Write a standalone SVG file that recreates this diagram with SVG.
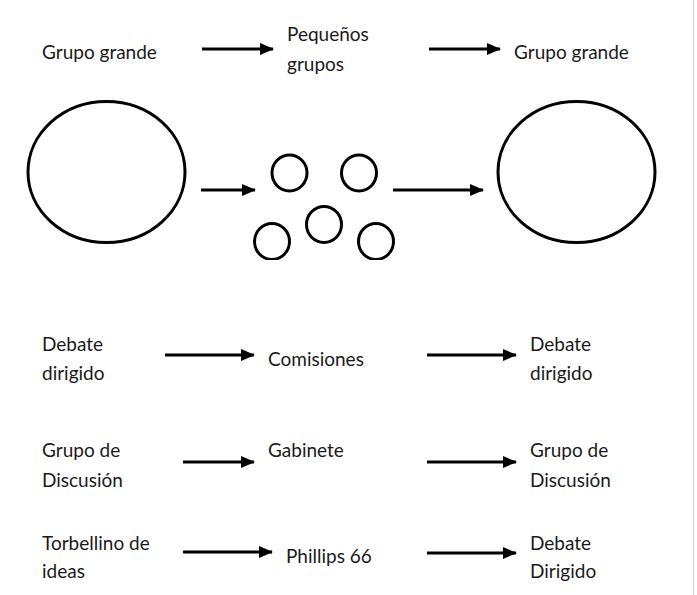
<svg xmlns="http://www.w3.org/2000/svg" width="697" height="595" viewBox="0 0 697 595">
<style>
text{font-family:Lato,"Liberation Sans",sans-serif;font-size:19px;fill:#1a1a1a}
.c{fill:none;stroke:#000;stroke-width:3}
.a{stroke:#000;stroke-width:3;fill:none;marker-end:url(#ah)}
</style>
<defs>
<marker id="ah" markerUnits="userSpaceOnUse" markerWidth="14" markerHeight="12" refX="13" refY="6" orient="auto" viewBox="0 0 14 12">
<path d="M0,0 L14,6 L0,12 z" fill="#000"/>
</marker>
<clipPath id="clipSmall"><rect x="0" y="0" width="697" height="260"/></clipPath>
</defs>
<rect width="697" height="595" fill="#fff"/>
<line x1="693.5" y1="0" x2="693.5" y2="595" stroke="#d4d4d4" stroke-width="1"/>
<g id="top-left"><text x="42" y="59">Grupo grande</text></g>
<g id="top-mid"><text x="287" y="41">Pequeños</text><text x="287" y="71">grupos</text></g>
<g id="top-right"><text x="514" y="59">Grupo grande</text></g>
<g id="big-left"><ellipse class="c" cx="106.5" cy="172" rx="78.5" ry="70.5"/></g>
<g id="small-groups" clip-path="url(#clipSmall)">
<ellipse class="c" cx="289.5" cy="173" rx="17.5" ry="18"/>
<ellipse class="c" cx="359" cy="173" rx="17.5" ry="18"/>
<ellipse class="c" cx="324" cy="224.5" rx="17.5" ry="18"/>
<ellipse class="c" cx="272" cy="241.5" rx="17.5" ry="18"/>
<ellipse class="c" cx="376" cy="241.5" rx="17.5" ry="18"/>
</g>
<g id="big-right"><ellipse class="c" cx="576.5" cy="172" rx="78.5" ry="70.5"/></g>
<g id="r1-left"><text x="42" y="351">Debate</text><text x="42" y="380">dirigido</text></g>
<g id="r1-mid"><text x="268" y="366">Comisiones</text></g>
<g id="r1-right"><text x="530" y="351">Debate</text><text x="530" y="380">dirigido</text></g>
<g id="r2-left"><text x="42" y="457">Grupo de</text><text x="42" y="487">Discusión</text></g>
<g id="r2-mid"><text x="268" y="457">Gabinete</text></g>
<g id="r2-right"><text x="530" y="457">Grupo de</text><text x="530" y="487">Discusión</text></g>
<g id="r3-left"><text x="42" y="550">Torbellino de</text><text x="42" y="578">ideas</text></g>
<g id="r3-mid"><text x="286" y="563">Phillips 66</text></g>
<g id="r3-right"><text x="530" y="550">Debate</text><text x="530" y="578">Dirigido</text></g>
<g id="connectors">
<line class="a" x1="202" y1="49" x2="273" y2="49"/>
<line class="a" x1="429" y1="49" x2="500" y2="49"/>
<line class="a" x1="201" y1="190" x2="255" y2="190"/>
<line class="a" x1="393" y1="190" x2="483" y2="190"/>
<line class="a" x1="165" y1="355" x2="254" y2="355"/>
<line class="a" x1="427" y1="355" x2="516" y2="355"/>
<line class="a" x1="183" y1="462" x2="254" y2="462"/>
<line class="a" x1="427" y1="462" x2="516" y2="462"/>
<line class="a" x1="183" y1="552" x2="272" y2="552"/>
<line class="a" x1="427" y1="553" x2="516" y2="553"/>
</g>
</svg>
